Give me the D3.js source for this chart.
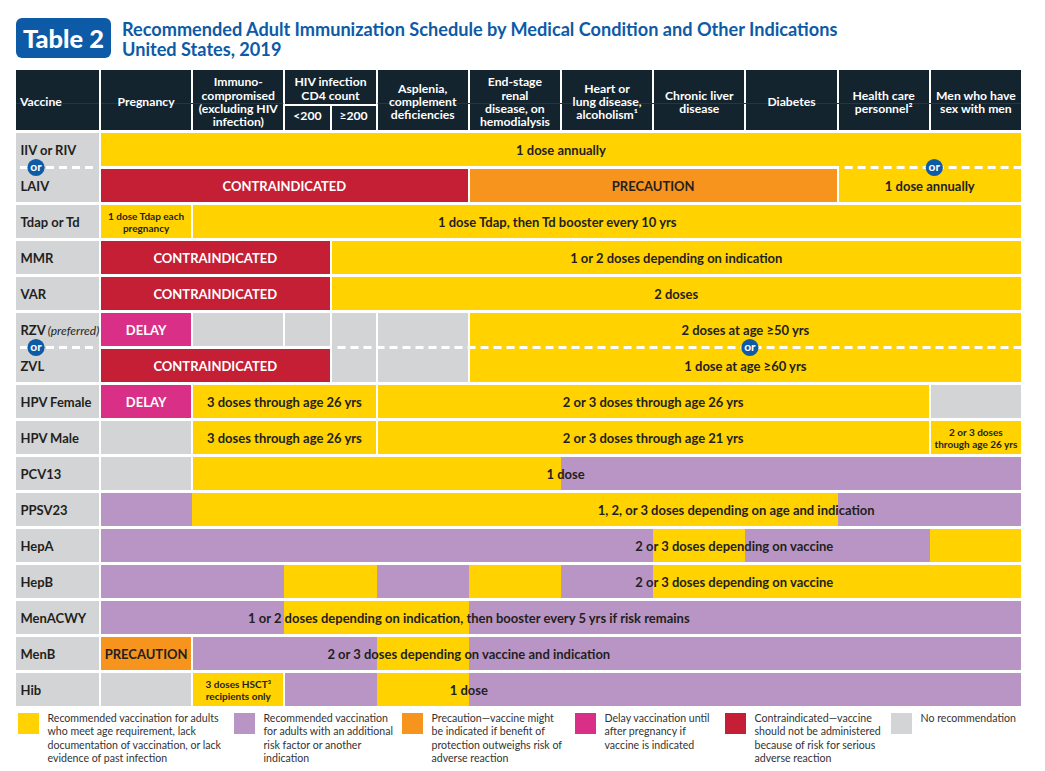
<!DOCTYPE html>
<html><head><meta charset="utf-8">
<script src="https://cdn.jsdelivr.net/npm/d3@7"></script>
<style>
body{margin:0;background:#fff;}
svg{display:block;font-family:Lato,"Noto Sans",sans-serif;}
</style></head><body>
<svg id="c" width="1045" height="771"></svg>
<script>
// ---------------- DATA ----------------
const titleLines = ["Recommended Adult Immunization Schedule by Medical Condition and Other Indications","United States, 2019"];
const badgeText = "Table 2";
const vaccines = ["IIV or RIV","LAIV","Tdap or Td","MMR","VAR","RZV","ZVL","HPV Female","HPV Male","PCV13","PPSV23","HepA","HepB","MenACWY","MenB","Hib"];
const vaccineNotes = {"RZV":"(preferred)"};
const alternativePairs = [["IIV or RIV","LAIV"],["RZV","ZVL"]];
const conditionLabels = [
  ["Pregnancy"],
  ["Immuno-","compromised","(excluding HIV","infection)"],
  ["<200"],["≥200"],
  ["Asplenia,","complement","deficiencies"],
  ["End-stage","renal","disease, on","hemodialysis"],
  ["Heart or","lung disease,","alcoholism¹"],
  ["Chronic liver","disease"],
  ["Diabetes"],
  ["Health care","personnel²"],
  ["Men who have","sex with men"]
];
const hivGroupLabel = ["HIV infection","CD4 count"];
const categories = ["Y","P","C","D","X","N"];
const categoryColors = ["#ffd200","#b995c5","#f7941e","#da2f87","#c41f34","#d3d4d6"];
const legendTexts = [
  ["Recommended vaccination for adults","who meet age requirement, lack","documentation of vaccination, or lack","evidence of past infection"],
  ["Recommended vaccination","for adults with an additional","risk factor or another","indication"],
  ["Precaution—vaccine might","be indicated if benefit of","protection outweighs risk of","adverse reaction"],
  ["Delay vaccination until","after pregnancy if","vaccine is indicated"],
  ["Contraindicated—vaccine","should not be administered","because of risk for serious","adverse reaction"],
  ["No recommendation"]
];
// segments: c = [first, last] condition index, k = category, t = label
// j = joined to previous segment (same block), m = merged with row above, s = small two-line label
// at = label centre on the condition axis (column units) when a label spans several colours
const schedule = [
  [{c:[0,10],k:"Y",t:"1 dose annually"}],
  [{c:[0,4],k:"X",t:"CONTRAINDICATED"},{c:[5,8],k:"C",t:"PRECAUTION"},{c:[9,10],k:"Y",t:"1 dose annually",m:1}],
  [{c:[0,0],k:"Y",t:"1 dose Tdap each|pregnancy",s:1},{c:[1,10],k:"Y",t:"1 dose Tdap, then Td booster every 10 yrs",at:4.96}],
  [{c:[0,2],k:"X",t:"CONTRAINDICATED"},{c:[3,10],k:"Y",t:"1 or 2 doses depending on indication"}],
  [{c:[0,2],k:"X",t:"CONTRAINDICATED"},{c:[3,10],k:"Y",t:"2 doses"}],
  [{c:[0,0],k:"D",t:"DELAY"},{c:[1,1],k:"N"},{c:[2,2],k:"N"},{c:[3,3],k:"N"},{c:[4,4],k:"N"},{c:[5,10],k:"Y",t:"2 doses at age ≥50 yrs"}],
  [{c:[0,2],k:"X",t:"CONTRAINDICATED"},{c:[3,3],k:"N",m:1},{c:[4,4],k:"N",m:1},{c:[5,10],k:"Y",t:"1 dose at age ≥60 yrs",m:1}],
  [{c:[0,0],k:"D",t:"DELAY"},{c:[1,3],k:"Y",t:"3 doses through age 26 yrs"},{c:[4,9],k:"Y",t:"2 or 3 doses through age 26 yrs"},{c:[10,10],k:"N"}],
  [{c:[0,0],k:"N"},{c:[1,3],k:"Y",t:"3 doses through age 26 yrs"},{c:[4,9],k:"Y",t:"2 or 3 doses through age 21 yrs"},{c:[10,10],k:"Y",t:"2 or 3 doses|through age 26 yrs",s:1}],
  [{c:[0,0],k:"N"},{c:[1,5],k:"Y",t:"1 dose",at:5.05},{c:[6,10],k:"P",j:1}],
  [{c:[0,0],k:"P",t:"1, 2, or 3 doses depending on age and indication",at:6.9},{c:[1,8],k:"Y",j:1},{c:[9,10],k:"P",j:1}],
  [{c:[0,6],k:"P",t:"2 or 3 doses depending on vaccine",at:6.88},{c:[7,7],k:"Y",j:1},{c:[8,9],k:"P",j:1},{c:[10,10],k:"Y",j:1}],
  [{c:[0,1],k:"P",t:"2 or 3 doses depending on vaccine",at:6.88},{c:[2,3],k:"Y",j:1},{c:[4,4],k:"P",j:1},{c:[5,5],k:"Y",j:1},{c:[6,6],k:"P",j:1},{c:[7,10],k:"Y",j:1}],
  [{c:[0,1],k:"P",t:"1 or 2 doses depending on indication, then booster every 5 yrs if risk remains",at:4.0},{c:[2,4],k:"Y",j:1},{c:[5,10],k:"P",j:1}],
  [{c:[0,0],k:"C",t:"PRECAUTION"},{c:[1,3],k:"P",t:"2 or 3 doses depending on vaccine and indication",at:4.0},{c:[4,4],k:"Y",j:1},{c:[5,10],k:"P",j:1}],
  [{c:[0,0],k:"N"},{c:[1,1],k:"Y",t:"3 doses HSCT³|recipients only",s:1},{c:[2,3],k:"P",t:"1 dose",at:4.0},{c:[4,4],k:"Y",j:1},{c:[5,10],k:"P",j:1}]
];

// ---------------- LAYOUT ----------------
const svg = d3.select("#c");
const DARK = "#231f20", HEAD = "#13242f", BLUE = "#0d5aa7";
const condUnits = [0,1,2,2.5,3,4,5,6,7,8,9,10]; // column edges (HIV column split in halves)
const x = d3.scaleLinear().domain([0,10]).range([100,1022]);
const y = d3.scaleBand().domain(vaccines).range([131.5,707.5]).paddingInner(3/36).paddingOuter(1.5/36);
const bw = y.bandwidth(), gap = y.step()-bw;
const color = d3.scaleOrdinal().domain(categories).range(categoryColors);
const textColor = k => (k==="X"||k==="D") ? "#fff" : DARK;

// Badge + title
svg.append("rect").attr("x",16).attr("y",18).attr("width",95).attr("height",40).attr("rx",6).attr("fill",BLUE);
const badge = svg.append("text").attr("x",63.5).attr("y",48).attr("text-anchor","middle")
  .attr("fill","#fff").attr("font-weight",900).attr("font-size",26).text(badgeText);
function fit(sel, target){ const w = sel.node().getComputedTextLength(); const fs = +sel.attr("font-size"); sel.attr("font-size", fs*target/w); }
fit(badge, 81);
const t1 = svg.append("text").attr("x",122).attr("y",35.5).attr("fill",BLUE).attr("font-weight",700).attr("font-size",18).text(titleLines[0]);
fit(t1, 716);
svg.append("text").attr("x",122).attr("y",55.5).attr("fill",BLUE).attr("font-weight",700).attr("font-size",t1.attr("font-size")).text(titleLines[1]);

// Header
const hTop = 70, hBot = 130, hMid = 103.5;
const head = svg.append("g");
head.append("rect").attr("x",16).attr("y",hTop).attr("width",83).attr("height",hBot-hTop).attr("fill",HEAD);
conditionLabels.forEach((lines,i)=>{
  const a = condUnits[i], b = condUnits[i+1];
  const isHiv = (i===2||i===3);
  const x0 = x(a)+1, x1 = x(b)-1;
  const y0 = isHiv ? hMid+2.5 : hTop;
  head.append("rect").attr("x",x0).attr("y",y0).attr("width",x1-x0).attr("height",hBot-y0).attr("fill",HEAD).attr("shape-rendering","crispEdges");
});
head.append("rect").attr("x",x(2)+1).attr("y",hTop).attr("width",x(3)-x(2)-2).attr("height",hMid-hTop).attr("fill",HEAD).attr("shape-rendering","crispEdges");
// faint rule across header
[[16,99],[x(0)+1,x(2)-1],[x(3)+1,1021]].forEach(r=>{
  head.append("line").attr("x1",r[0]).attr("x2",r[1]).attr("y1",hMid).attr("y2",hMid).attr("stroke","#26363f").attr("stroke-width",1);
});
const hText = (cx, cy, lines) => {
  const lh = 13.3;
  const t = head.append("text").attr("text-anchor","middle").attr("fill","#fff").attr("font-weight",700).attr("font-size",12.2);
  lines.forEach((l,j)=>{ t.append("tspan").attr("x",cx).attr("y",cy+(j-(lines.length-1)/2)*lh).attr("dy","0.36em").text(l); });
};
head.append("text").attr("x",20).attr("y",101.5).attr("dy","0.36em").attr("fill","#fff").attr("font-weight",700).attr("font-size",12.2).text("Vaccine");
conditionLabels.forEach((lines,i)=>{
  const cx = (x(condUnits[i])+x(condUnits[i+1]))/2;
  const isHiv = (i===2||i===3);
  hText(cx, isHiv ? 115.5 : 101.8, lines);
});
hText((x(2)+x(3))/2, 88.5, hivGroupLabel);

// Vaccine label cells
const pairSecond = new Set(alternativePairs.map(p=>p[1]));
const pairFirst = new Map(alternativePairs.map(p=>[p[0],p[1]]));
const vg = svg.append("g");
vaccines.forEach(v=>{
  if (pairSecond.has(v)) return;
  const top = y(v);
  const bot = pairFirst.has(v) ? y(pairFirst.get(v))+bw : top+bw;
  vg.append("rect").attr("x",16).attr("y",top).attr("width",83).attr("height",bot-top).attr("fill",categoryColors[5]).attr("shape-rendering","crispEdges");
});
vaccines.forEach(v=>{
  const t = vg.append("text").attr("x",20.5).attr("y",y(v)+bw/2).attr("dy","0.45em").attr("fill",DARK).attr("font-size",13);
  t.append("tspan").attr("font-weight",700).text(v);
  if (vaccineNotes[v]) t.append("tspan").attr("font-style","italic").attr("font-weight",400).attr("font-size",12).attr("dx",2).text(vaccineNotes[v]);
});

// Schedule cells
const cg = svg.append("g"), tg = svg.append("g");
const dashRanges = [];
schedule.forEach((segs, ri)=>{
  const v = vaccines[ri];
  const top = y(v), bot = top+bw;
  segs.forEach((s,k)=>{
    const a = condUnits[s.c[0]], b = condUnits[s.c[1]+1];
    const next = segs[k+1];
    const x0 = x(a) + (s.j?0:1), x1 = x(b) - (next&&next.j?0:1);
    const y0 = s.m ? top-gap : top;
    cg.append("rect").attr("x",x0).attr("y",y0).attr("width",x1-x0).attr("height",bot-y0)
      .attr("fill",color(s.k)).attr("shape-rendering","crispEdges");
    if (s.m) dashRanges.push({y: top-gap/2, x0: x(a)+ (s.j?0:1), x1: x(b)-1});
  });
  segs.forEach((s,k)=>{
    if (!s.t) return;
    let e = k; while (segs[e+1] && segs[e+1].j) e++;
    const bx0 = x(condUnits[s.c[0]]), bx1 = x(condUnits[segs[e].c[1]+1]);
    const cx = s.at!==undefined ? x(s.at) : (bx0+bx1)/2;
    const cy = top + bw/2;
    const lines = s.t.split("|");
    const fs = s.s ? 10 : 13;
    const t = tg.append("text").attr("text-anchor","middle").attr("fill",textColor(s.k)).attr("font-weight",700).attr("font-size",fs);
    lines.forEach((l,j)=>{ t.append("tspan").attr("x",cx).attr("y",cy+(j-(lines.length-1)/2)*11.8).attr("dy", s.s ? "0.42em" : "0.45em").text(l); });
  });
});

// dashed "or" separators
const dg = svg.append("g");
alternativePairs.forEach(p=>{
  const yy = y(p[1]) - gap/2;
  const rs = dashRanges.filter(r=>Math.abs(r.y-yy)<0.1);
  const ranges = [[20,97]];
  if (rs.length){ ranges.push([d3.min(rs,r=>r.x0)+6, d3.max(rs,r=>r.x1)]); }
  ranges.forEach(r=>{
    dg.append("line").attr("x1",r[0]).attr("x2",r[1]).attr("y1",yy).attr("y2",yy)
      .attr("stroke","#fff").attr("stroke-width",3).attr("stroke-dasharray","8,5");
  });
  const circles = [36];
  if (rs.length){ const last = rs[rs.length-1]; circles.push((x(condUnits[schedule[vaccines.indexOf(p[1])].slice(-1)[0].c[0]]) + last.x1)/2 + 5); }
  circles.forEach(cx=>{
    dg.append("circle").attr("cx",cx).attr("cy",yy).attr("r",8.6).attr("fill",BLUE);
    dg.append("text").attr("x",cx).attr("y",yy).attr("dy","0.33em").attr("text-anchor","middle").attr("fill","#fff").attr("font-weight",700).attr("font-size",12).text("or");
  });
});

// Legend
const lg = svg.append("g");
const legendX = [18,234,402,575,725,891];
legendTexts.forEach((lines,i)=>{
  lg.append("rect").attr("x",legendX[i]).attr("y",713).attr("width",21).attr("height",21).attr("fill",categoryColors[i]);
  const t = lg.append("text").attr("fill","#333").attr("font-size",10.6);
  lines.forEach((l,j)=>{ t.append("tspan").attr("x",legendX[i]+29.5).attr("y",722+j*13.3).text(l); });
});
</script>
</body></html>
